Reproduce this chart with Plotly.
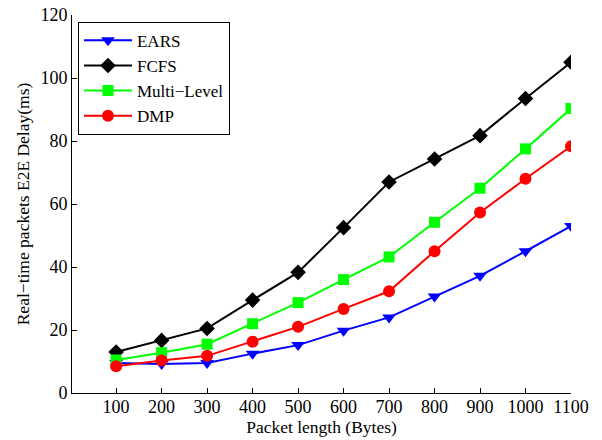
import plotly.graph_objects as go

packet_length = [100, 200, 300, 400, 500, 600, 700, 800, 900, 1000, 1100]
ears = [9.5, 9.2, 9.5, 12.5, 15.2, 19.8, 24.0, 30.6, 37.2, 45.0, 53.0]
fcfs = [13.0, 16.7, 20.5, 29.5, 38.3, 52.5, 67.0, 74.3, 81.7, 93.5, 105.0]
multi_level = [10.5, 12.8, 15.5, 22.0, 28.7, 36.0, 43.2, 54.2, 65.0, 77.5, 90.3]
dmp = [8.5, 10.3, 11.8, 16.3, 21.0, 26.7, 32.3, 45.0, 57.3, 68.0, 78.3]

series = [
    ("EARS", ears, "#0000ff", "triangle-down", 12),
    ("FCFS", fcfs, "#000000", "diamond", 12),
    ("Multi\u2212Level", multi_level, "#00ff00", "square", 11),
    ("DMP", dmp, "#ff0000", "circle", 12),
]

fig = go.Figure()
for name, vals, color, sym, size in series:
    fig.add_trace(go.Scatter(
        x=packet_length, y=vals, name=name, mode="lines+markers",
        line=dict(color=color, width=2),
        marker=dict(symbol=sym, size=size, color=color, line=dict(width=0)),
    ))

font = "Liberation Serif, Times New Roman, serif"
fig.update_layout(
    width=602, height=440,
    margin=dict(l=72, r=31, t=15, b=47, autoexpand=False),
    paper_bgcolor="white", plot_bgcolor="white",
    font=dict(family=font, size=18, color="black"),
    showlegend=True,
    legend=dict(
        x=0.012, y=0.982, xanchor="left", yanchor="top",
        bordercolor="black", borderwidth=1, bgcolor="white",
        font=dict(family=font, size=17),
        tracegroupgap=0, itemwidth=48,
    ),
    xaxis=dict(
        range=[3, 1100], tickvals=packet_length, automargin=False,
        ticks="inside", ticklen=5, tickcolor="black",
        showline=True, linecolor="black", linewidth=1,
        showgrid=False, zeroline=False, ticklabelstandoff=-3,
        title=dict(text="Packet length (Bytes)", standoff=0, font=dict(size=17.5)),
        tickfont=dict(size=18),
    ),
    yaxis=dict(
        range=[0, 120], tickvals=[0, 20, 40, 60, 80, 100, 120], automargin=False,
        ticks="inside", ticklen=5, tickcolor="black",
        showline=True, linecolor="black", linewidth=1,
        showgrid=False, zeroline=False,
        title=dict(text="Real\u2212time packets E2E Delay(ms)", standoff=6, font=dict(size=17.5)),
        tickfont=dict(size=18),
    ),
)

fig.write_html("out.html")
